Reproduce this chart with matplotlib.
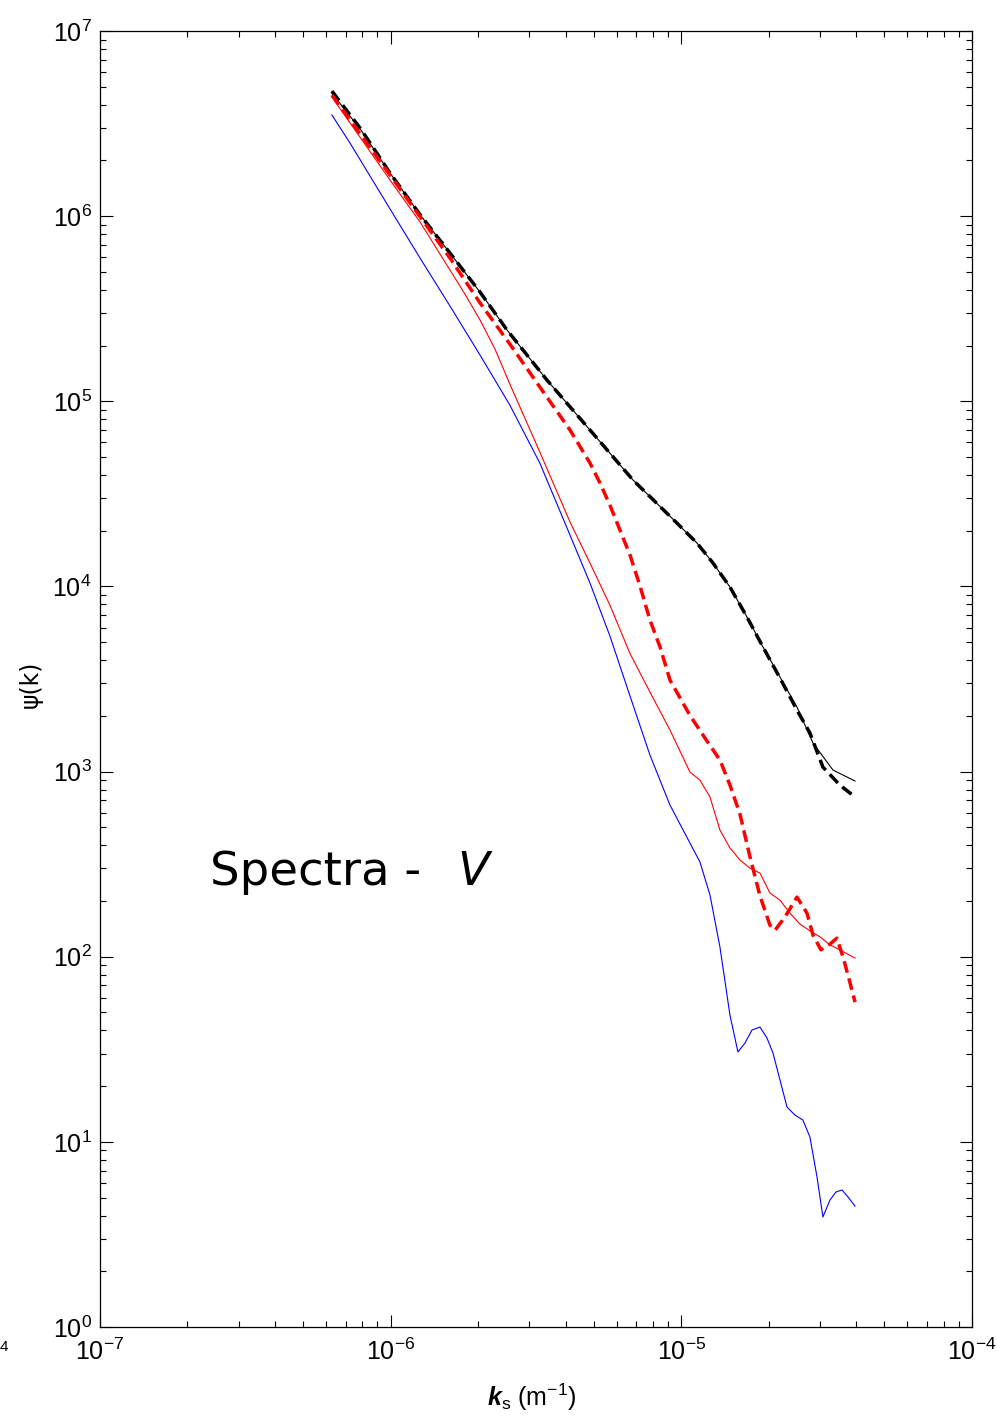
import numpy as np
import matplotlib
matplotlib.use('Agg')
import matplotlib.pyplot as plt
from matplotlib import font_manager
from matplotlib.ticker import FixedLocator, NullFormatter

# wavenumber k_s (1/m) and spectral density psi(k) for each run
k_black = [6.28e-7, 7.90e-7, 1.00e-6, 1.272e-6, 1.60e-6, 2.03e-6, 2.513e-6, 3.449e-6,
           4.85e-6, 6.82e-6, 9.66e-6, 1.132e-5, 1.285e-5, 1.47e-5, 1.682e-5, 1.91e-5,
           2.185e-5, 2.50e-5, 2.838e-5, 3.324e-5, 3.96e-5]
psi_black = [4.62e6, 2.92e6, 1.69e6, 1.002e6, 6.32e5, 3.89e5, 2.43e5, 1.303e5,
             7.0e4, 3.757e4, 2.20e4, 1.716e4, 1.338e4, 9.93e3, 6.84e3, 4.71e3,
             3.24e3, 2.23e3, 1.427e3, 1.02e3, 889]

k_black_dash = [6.28e-7, 7.90e-7, 1.00e-6, 1.272e-6, 1.60e-6, 2.03e-6, 2.513e-6, 3.449e-6,
                4.85e-6, 6.82e-6, 9.66e-6, 1.132e-5, 1.285e-5, 1.47e-5, 1.682e-5, 1.91e-5,
                2.185e-5, 2.50e-5, 2.77e-5, 3.07e-5, 3.51e-5, 3.96e-5]
psi_black_dash = [4.74e6, 2.95e6, 1.69e6, 1.002e6, 6.32e5, 3.89e5, 2.43e5, 1.303e5,
                  7.0e4, 3.757e4, 2.20e4, 1.716e4, 1.338e4, 9.93e3, 6.84e3, 4.71e3,
                  3.20e3, 2.15e3, 1.616e3, 1.058e3, 846, 729]

k_red = [6.28e-7, 1.00e-6, 1.262e-6, 1.60e-6, 1.80e-6, 2.03e-6, 2.285e-6, 2.57e-6,
         3.26e-6, 4.14e-6, 4.85e-6, 5.68e-6, 6.66e-6, 7.80e-6, 9.14e-6, 1.071e-5,
         1.159e-5, 1.255e-5, 1.358e-5, 1.47e-5, 1.591e-5, 1.723e-5, 1.865e-5, 2.018e-5,
         2.185e-5, 2.365e-5, 2.56e-5, 2.77e-5, 3.00e-5, 3.246e-5, 3.51e-5, 3.745e-5,
         3.96e-5]
psi_red = [4.40e6, 1.55e6, 9.30e5, 5.12e5, 3.80e5, 2.75e5, 1.916e5, 1.24e5,
           5.32e4, 2.23e4, 1.338e4, 7.93e3, 4.34e3, 2.69e3, 1.677e3, 994,
           900, 729, 483, 387, 333, 301, 283, 221,
           202, 172, 150, 138, 128, 116, 109, 103,
           98.4]

k_red_dash = [6.28e-7, 1.00e-6, 1.60e-6, 2.03e-6, 2.57e-6, 3.26e-6, 4.14e-6, 4.85e-6,
              5.25e-6, 5.68e-6, 6.15e-6, 6.66e-6, 7.21e-6, 7.80e-6, 8.45e-6, 9.14e-6,
              1.071e-5, 1.255e-5, 1.358e-5, 1.47e-5, 1.591e-5, 1.723e-5, 1.865e-5, 2.018e-5,
              2.10e-5, 2.273e-5, 2.50e-5, 2.706e-5, 2.838e-5, 3.022e-5, 3.246e-5, 3.43e-5,
              3.60e-5, 3.745e-5, 3.96e-5]
psi_red_dash = [4.51e6, 1.65e6, 5.94e5, 3.40e5, 2.04e5, 1.195e5, 7.0e4, 4.64e4,
                3.62e4, 2.75e4, 2.017e4, 1.478e4, 1.005e4, 6.58e3, 4.71e3, 3.12e3,
                2.01e3, 1.383e3, 1.155e3, 846, 590, 346, 213, 148,
                139, 164, 210, 172, 131, 109, 117, 126,
                99.6, 79.6, 56.9]

k_blue = [6.28e-7, 7.25e-7, 1.00e-6, 1.262e-6, 1.60e-6, 2.03e-6, 2.57e-6, 3.26e-6,
          4.14e-6, 4.85e-6, 5.68e-6, 6.66e-6, 7.80e-6, 9.14e-6, 1.071e-5, 1.159e-5,
          1.255e-5, 1.358e-5, 1.47e-5, 1.566e-5, 1.656e-5, 1.750e-5, 1.865e-5, 1.971e-5,
          2.067e-5, 2.185e-5, 2.31e-5, 2.46e-5, 2.62e-5, 2.77e-5, 2.93e-5, 3.07e-5,
          3.246e-5, 3.405e-5, 3.57e-5, 3.745e-5, 3.96e-5]
psi_blue = [3.52e6, 2.48e6, 1.08e6, 5.94e5, 3.27e5, 1.778e5, 9.55e4, 4.64e4,
            1.895e4, 1.043e4, 5.40e3, 2.56e3, 1.228e3, 660, 411, 325,
            215.4, 112.8, 48.4, 30.6, 34.2, 40.2, 41.7, 36.4,
            30.2, 21.6, 15.43, 13.96, 13.12, 10.62, 6.46, 3.93,
            4.85, 5.36, 5.50, 5.04, 4.50]

x_decades = [1e-7, 1e-6, 1e-5, 1e-4]
y_decades = [1e0, 1e1, 1e2, 1e3, 1e4, 1e5, 1e6, 1e7]

installed = {f.name for f in font_manager.fontManager.ttflist}
if 'Liberation Sans Narrow' in installed:
    tick_font, tick_size = 'Liberation Sans Narrow', 20
else:
    tick_font, tick_size = 'Liberation Sans', 18

plt.rcParams['font.family'] = [tick_font, 'DejaVu Sans']
plt.rcParams['mathtext.fontset'] = 'custom'
plt.rcParams['mathtext.rm'] = tick_font
plt.rcParams['mathtext.it'] = tick_font + ':italic'
plt.rcParams['mathtext.bf'] = tick_font + ':bold:italic'

fig = plt.figure(figsize=(9.97, 14.24), dpi=100)
ax = fig.add_axes([0.1003, 0.0681, 0.8746, 0.9101])

ax.loglog(k_black, psi_black, color='black', lw=0.8)
ax.loglog(k_black_dash, psi_black_dash, color='black', lw=2.5, dashes=(3.4, 1.7))
ax.loglog(k_red, psi_red, color='red', lw=0.8)
ax.loglog(k_red_dash, psi_red_dash, color='red', lw=2.5, dashes=(3.4, 1.7))
ax.loglog(k_blue, psi_blue, color='blue', lw=0.8)

ax.set_xlim(x_decades[0], x_decades[-1])
ax.set_ylim(y_decades[0], y_decades[-1])

# decade ticks with 2..9 minor ticks, only inside the view
for axis, decs in ((ax.xaxis, x_decades), (ax.yaxis, y_decades)):
    axis.set_major_locator(FixedLocator(decs))
    minors = [d * m for d in decs[:-1] for m in range(2, 10)]
    axis.set_minor_locator(FixedLocator(minors))
    axis.set_minor_formatter(NullFormatter())
ax.set_xticklabels([r'$10^{%d}$' % int(np.log10(v)) for v in x_decades])
ax.set_yticklabels([r'$10^{%d}$' % int(np.log10(v)) for v in y_decades])

ax.tick_params(which='both', direction='in', top=True, right=True, width=0.8, colors='black')
ax.tick_params(which='major', length=9, labelsize=tick_size)
ax.tick_params(axis='y', which='major', pad=6)
ax.tick_params(axis='x', which='major', pad=8)
ax.tick_params(which='minor', length=4.5)
for sp in ax.spines.values():
    sp.set_linewidth(0.9)

ax.text(0.126, 0.341, 'Spectra -', transform=ax.transAxes, fontsize=33.5,
        family='DejaVu Sans', va='baseline', ha='left')
ax.text(0.4094, 0.341, 'V', transform=ax.transAxes, fontsize=33.5,
        family='DejaVu Sans', style='italic', va='baseline', ha='left')

fig.text(0.5336, 1 - 1406 / 1424, r'$\mathbf{k}_{\mathrm{s}}\ (\mathrm{m}^{-1})$',
         fontsize=18, ha='center', va='baseline')
fig.text(31 / 997, 1 - 684 / 1424, 'ψ(k)', rotation=90, fontsize=17,
         family='DejaVu Sans', ha='center', va='center')
fig.text(0.0, 1 - 1347 / 1424, '4', fontsize=11, ha='left', va='center')

fig.savefig('out.png', dpi=100, facecolor='white')
